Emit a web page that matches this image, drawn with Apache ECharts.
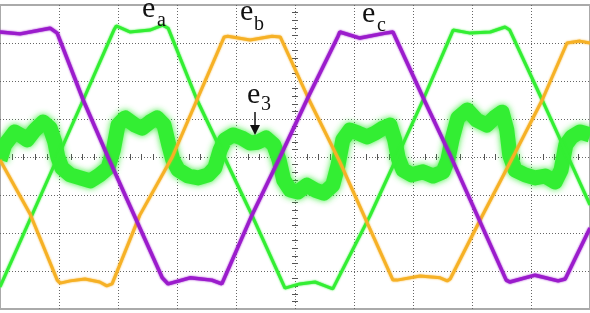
<!DOCTYPE html>
<html>
<head>
<meta charset="utf-8">
<title>Back-EMF and third harmonic</title>
<script src="https://cdn.jsdelivr.net/npm/echarts@6/dist/echarts.min.js"></script>
<style>
html, body { margin: 0; background: #fff; }
#chart { width: 590px; height: 313px; }
</style>
</head>
<body>
<div id="chart"></div>
<script>
// x: time in scope divisions (0..10), y: volts in divisions (-4..4)
var ea = [[0,-3.42],[0.98,0],[1.41,1.5],[1.93,3.34],[1.97,3.45],[2.2,3.29],[2.54,3.34],[2.76,3.47],[2.85,3.39],
  [3.34,1.5],[3.8,0],[4.27,-1.53],[4.83,-3.45],[5.08,-3.34],[5.34,-3.29],[5.51,-3.39],[5.64,-3.47],
  [6.27,-1.55],[6.73,0],[7.17,1.5],[7.68,3.34],[7.97,3.26],[8.31,3.29],[8.56,3.42],[8.64,3.34],[9.19,1.5],[10,-1.26]];

var eb = [[0,-0.08],[0.51,-1.5],[0.97,-3.24],[1.02,-3.32],[1.19,-3.26],[1.44,-3.21],[1.69,-3.29],[1.81,-3.39],[1.9,-3.34],
  [2.37,-1.53],[2.92,0],[3.8,3.16],[3.86,3.18],[4.24,3.08],[4.61,3.18],[4.75,3.16],[5.24,1.5],[5.76,-0.13],
  [6.66,-3.24],[6.73,-3.24],[7.12,-3.13],[7.46,-3.18],[7.58,-3.26],[7.63,-3.21],[8.19,-1.5],[8.73,0.11],
  [9.19,1.5],[9.61,3.0],[9.83,3.05],[10,3.0]];

var ec = [[0,3.29],[0.34,3.24],[0.85,3.39],[0.97,3.26],[1.41,1.5],[1.83,0],[2.75,-3.18],[2.85,-3.34],[3.22,-3.18],
  [3.59,-3.24],[3.76,-3.34],[4.27,-1.53],[4.73,-0.05],[5.24,1.63],[5.73,3.18],[5.76,3.29],[6.1,3.13],[6.53,3.26],
  [6.66,3.29],[7.19,1.5],[7.63,0.05],[8.58,-3.24],[8.64,-3.29],[9.07,-3.11],[9.46,-3.26],[9.58,-3.21],[10,-1.87]];

var e3 = [[0,-0.08],[0.08,0.32],[0.17,0.5],[0.25,0.66],[0.34,0.58],[0.46,0.45],[0.59,0.71],[0.73,0.92],[0.85,0.76],
  [0.93,0.39],[0.98,0],[1.05,-0.29],[1.19,-0.47],[1.36,-0.55],[1.53,-0.63],[1.69,-0.47],[1.83,-0.29],[1.92,0.18],
  [2.0,0.84],[2.12,1.03],[2.29,0.84],[2.41,0.76],[2.54,0.92],[2.66,1.03],[2.78,0.84],[2.86,0.32],[2.93,-0.08],
  [3.02,-0.34],[3.19,-0.5],[3.36,-0.55],[3.53,-0.47],[3.64,-0.29],[3.73,0.18],[3.81,0.45],[3.95,0.58],[4.1,0.5],
  [4.24,0.37],[4.37,0.39],[4.51,0.5],[4.64,0.32],[4.73,-0.08],[4.81,-0.61],[4.92,-0.87],[5.05,-0.92],[5.2,-0.74],
  [5.34,-0.87],[5.49,-0.95],[5.64,-0.74],[5.73,-0.21],[5.81,0.45],[5.93,0.71],[6.07,0.63],[6.22,0.53],[6.36,0.63],
  [6.49,0.76],[6.61,0.84],[6.69,0.45],[6.75,-0.03],[6.83,-0.34],[6.98,-0.47],[7.17,-0.39],[7.34,-0.5],[7.51,-0.39],
  [7.59,-0.08],[7.66,0.45],[7.76,1.03],[7.92,1.24],[8.08,0.97],[8.25,0.84],[8.39,1.05],[8.51,1.18],[8.59,0.71],
  [8.64,0.05],[8.73,-0.34],[8.9,-0.47],[9.07,-0.55],[9.24,-0.5],[9.41,-0.66],[9.51,-0.34],[9.59,0.32],[9.69,0.53],
  [9.83,0.66],[10,0.58]];

var green = '#33ee33', orange = '#f6b126', purple = '#9b1ccc';
var serif = '"Liberation Serif", "DejaVu Serif", serif';

function txt(s, x, y, size) {
  return { type: 'text', x: x, y: y, z: 100,
    style: { text: s, font: size + 'px ' + serif, fill: '#111', verticalAlign: 'middle' } };
}

var gridLine = { color: '#666', type: [1, 2], width: 1 };
function xAx(split, inside) {
  return { type: 'value', min: 0, max: 10, interval: 1, position: 'bottom', offset: -152,
    axisLine: { show: false, onZero: false },
    axisTick: { show: false, inside: inside },
    minorTick: { show: true, splitNumber: 5, length: 3, lineStyle: { color: '#555' } },
    axisLabel: { show: false },
    splitLine: { show: split, showMinLine: false, showMaxLine: false, lineStyle: gridLine } };
}
function yAx(split, inside) {
  return { type: 'value', min: -4, max: 4, interval: 1, position: 'left', offset: -295,
    axisLine: { show: false, onZero: false },
    axisTick: { show: false, inside: inside },
    minorTick: { show: true, splitNumber: 5, length: 3, lineStyle: { color: '#555' } },
    axisLabel: { show: false },
    splitLine: { show: split, showMinLine: false, showMaxLine: false, lineStyle: gridLine } };
}

var chart = echarts.init(document.getElementById('chart'));
chart.setOption({
  animation: false,
  backgroundColor: '#fff',
  grid: { left: 0, right: 0, top: 5, bottom: 4, show: true, borderColor: '#aaa', borderWidth: 2 },
  xAxis: [xAx(true, false), xAx(false, true)],
  yAxis: [yAx(true, false), yAx(false, true)],
  series: [
    // noisy third-harmonic trace: wide band with a soft halo for the noise
    { name: 'e3', type: 'line', data: e3, showSymbol: false, z: 1,
      lineStyle: { color: green, width: 15, join: 'round',
        shadowBlur: 6, shadowColor: 'rgba(40,235,40,0.9)' } },
    { name: 'ea', type: 'line', data: ea, showSymbol: false, z: 2,
      lineStyle: { color: green, width: 3, shadowBlur: 2, shadowColor: green } },
    { name: 'eb', type: 'line', data: eb, showSymbol: false, z: 2,
      lineStyle: { color: orange, width: 3, shadowBlur: 2, shadowColor: orange } },
    { name: 'ec', type: 'line', data: ec, showSymbol: false, z: 3,
      lineStyle: { color: purple, width: 3.5, shadowBlur: 2, shadowColor: purple } }
  ],
  graphic: [
    txt('e', 142, 9, 30), txt('a', 157, 21, 20),
    txt('e', 240, 12, 30), txt('b', 254, 25, 20),
    txt('e', 362, 14, 30), txt('c', 377, 26, 20),
    txt('e', 247, 95, 30), txt('3', 261, 105, 20),
    { type: 'line', z: 100, shape: { x1: 255, y1: 112, x2: 255, y2: 127 }, style: { stroke: '#111', lineWidth: 1.5 } },
    { type: 'polygon', z: 100, shape: { points: [[250, 125], [260, 125], [255, 135]] }, style: { fill: '#111' } }
  ]
});
</script>
</body>
</html>
